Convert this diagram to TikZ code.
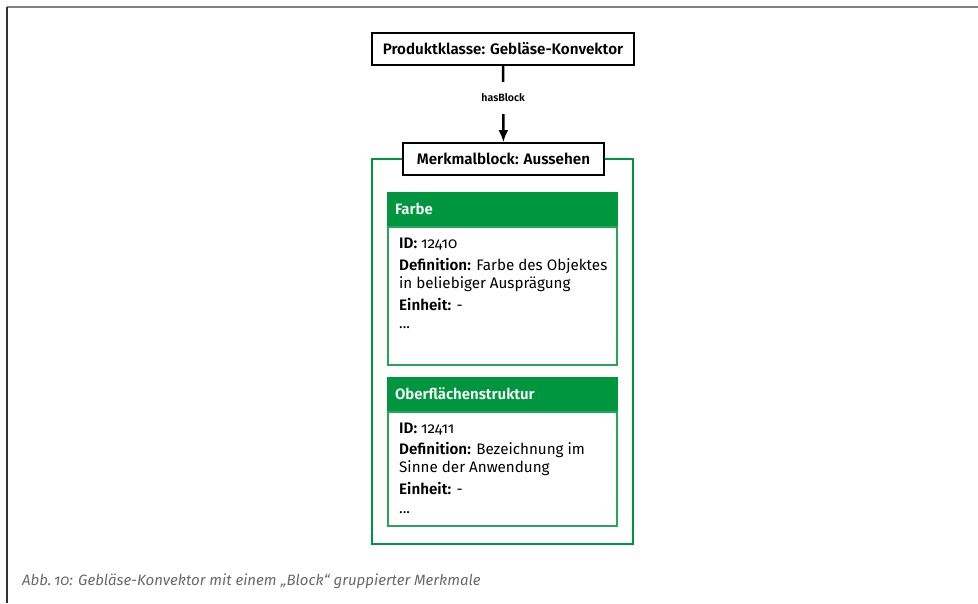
\documentclass[tikz,border=0pt]{standalone}
\usepackage{fontspec}
\setmainfont{Fira Sans}[Numbers=OldStyle, BoldFont={Fira Sans SemiBold}]
\usetikzlibrary{arrows.meta,positioning}
\definecolor{mgreen}{RGB}{0,150,64}
\definecolor{capgray}{RGB}{105,105,105}
\tikzset{>={Latex[length=12pt,width=10pt]}}
\tikzstyle{classbox}=[rectangle,draw=black,line width=1.6pt,fill=white,minimum height=32pt,inner sep=0pt,font=\fontsize{15.2}{18}\selectfont\bfseries]
\tikzstyle{blockframe}=[rectangle,draw=mgreen,line width=2pt,inner sep=0pt]
\tikzstyle{cardhead}=[rectangle,fill=mgreen,text=white,minimum width=231pt,minimum height=34pt,inner sep=0pt,text width=215pt,align=left,font=\fontsize{15}{18}\selectfont\bfseries]
\tikzstyle{cardbody}=[rectangle,draw=mgreen!85,line width=2pt,minimum width=229pt,inner sep=0pt]
\tikzstyle{cardtext}=[inner sep=0pt,align=left,anchor=north west,font=\fontsize{15.2}{18}\selectfont]

\begin{document}
\begin{tikzpicture}[x=1pt,y=-1pt]
    \useasboundingbox (0,0) rectangle (978,603);
    \draw[gray,line width=1.5pt] (978,7) -- (7,7);
    \draw[black!80,line width=1.5pt] (7,7) -- (7,603);

    \node[blockframe,minimum width=261pt,minimum height=385pt] (frame) at (502.5,351.5) {};
    \node[classbox,minimum width=262pt] (pk) at (503,49) {Produktklasse: Gebläse-Konvektor};
    \node[classbox,minimum width=201pt] (mb) at (503.5,159) {Merkmalblock: Aussehen};
    \draw[->,line width=2.4pt] (pk) -- node[pos=0.42,fill=white,inner xsep=2pt,inner ysep=12pt,font=\fontsize{10.6}{12}\selectfont\bfseries] (hb) {hasBlock} (mb);

    % Farbe
    \node[cardhead] (fh) at (502.5,209) {Farbe};
    \node[cardbody,minimum height=138pt,below=0pt of fh] (fb) {};
    \node[cardtext,below right=12pt and 12pt of fb.north west] (ft) {%
        \textbf{ID:} 12410\\[4pt]
        \textbf{Definition:} Farbe des Objektes\\
        in beliebiger Ausprägung\\[3.5pt]
        \textbf{Einheit:} -\\[0pt]
        ...};

    % Oberflächenstruktur
    \node[cardhead] (oh) at (502.5,393.5) {Oberflächenstruktur};
    \node[cardbody,minimum height=114pt,below=0pt of oh] (ob) {};
    \node[cardtext,below right=12pt and 12pt of ob.north west] (ot) {%
        \textbf{ID:} 12411\\[3.5pt]
        \textbf{Definition:} Bezeichnung im\\
        Sinne der Anwendung\\[3.5pt]
        \textbf{Einheit:} -\\[1pt]
        ...};

    \node[anchor=west,inner sep=0pt,text=capgray,font=\fontsize{15}{17}\selectfont\itshape] (cap) at (22,581) {Abb.\,10: Gebläse-Konvektor mit einem „Block“ gruppierter Merkmale};
\end{tikzpicture}
\end{document}
